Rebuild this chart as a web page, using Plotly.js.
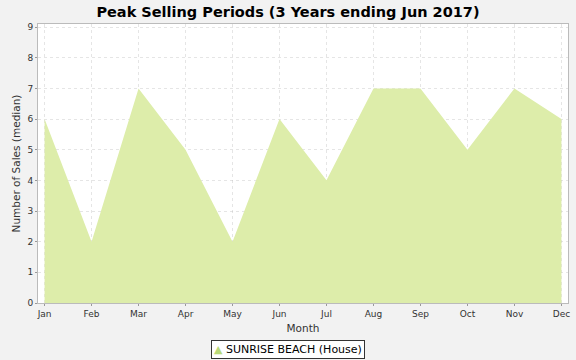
<!DOCTYPE html>
<html><head><meta charset="utf-8">
<script src="https://cdn.plot.ly/plotly-3.0.1.min.js"></script>
<style>html,body{margin:0;padding:0;background:#f2f2f2;}</style>
</head><body>
<div id="chart" style="width:576px;height:360px;"></div>
<script>
const months = ["Jan","Feb","Mar","Apr","May","Jun","Jul","Aug","Sep","Oct","Nov","Dec"];
const sales = [6,2,7,5,2,6,4,7,7,5,7,6];
const seriesName = "SUNRISE BEACH (House)";
const seriesColor = "rgb(221,237,170)";
const legendMarkColor = "rgb(184,217,120)";

const areaTrace = {
  x: months, y: sales, type: "scatter", mode: "lines",
  fill: "tozeroy", fillcolor: seriesColor,
  line: {width: 0, color: seriesColor},
  name: seriesName, showlegend: false, hoverinfo: "x+y"
};
const layout = {
  width: 576, height: 360,
  paper_bgcolor: "#f2f2f2", plot_bgcolor: "#ffffff",
  margin: {l: 38, r: 8, t: 24, b: 57},
  font: {family: "DejaVu Sans, sans-serif", color: "#333"},
  title: {text: "Peak Selling Periods (3 Years ending Jun 2017)", font: {size: 14.5, color: "#000", weight: "bold"}, x: 0.5, xanchor: "center", y: 0.981, yanchor: "top"},
  xaxis: {
    type: "category", range: [-0.14, 11.14],
    showgrid: true, gridcolor: "rgba(190,190,190,0.4)", griddash: "dot",
    showline: true, linecolor: "#bbbbbb", mirror: true, layer: "above traces",
    ticks: "outside", ticklen: 2, tickcolor: "#999",
    tickfont: {size: 9, color: "#333"},
    title: {text: "Month", font: {size: 10.5, color: "#333"}, standoff: 6},
    automargin: false
  },
  yaxis: {
    range: [0, 9.1], dtick: 1,
    showgrid: true, gridcolor: "rgba(190,190,190,0.4)", griddash: "dot",
    zeroline: false, layer: "above traces",
    showline: true, linecolor: "#bbbbbb", mirror: true,
    ticks: "outside", ticklen: 2, tickcolor: "#999",
    tickfont: {size: 9, color: "#333"},
    title: {text: "Number of Sales (median)", font: {size: 10.5, color: "#333"}, standoff: 4},
    automargin: false
  },
  showlegend: false,
  annotations: [{
    xref: "paper", yref: "paper", x: 0.4717, y: -0.165,
    xanchor: "center", yanchor: "middle", showarrow: false,
    text: '<span style="color:' + legendMarkColor + '">▲</span> ' + seriesName,
    font: {size: 11, color: "#000", family: "DejaVu Sans, sans-serif"},
    bgcolor: "#ffffff", bordercolor: "#333", borderwidth: 1, borderpad: 2
  }]
};
Plotly.newPlot("chart", [areaTrace], layout, {displayModeBar: false, staticPlot: true});
</script>
</body></html>
